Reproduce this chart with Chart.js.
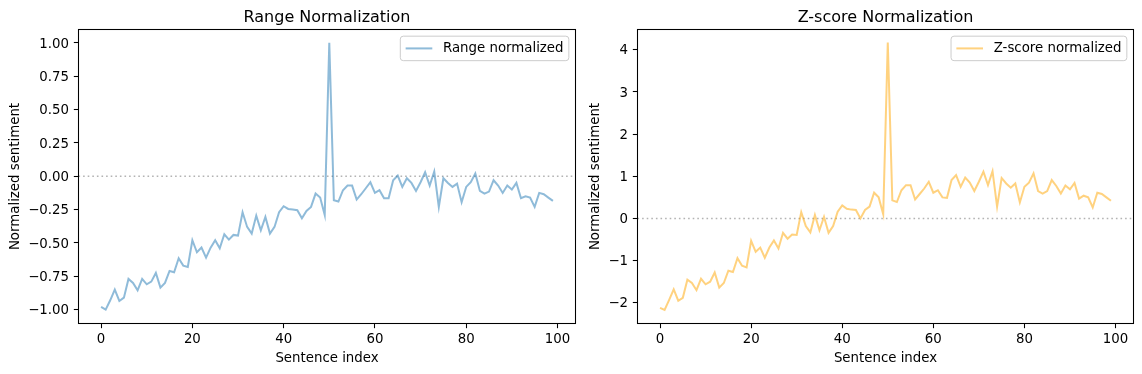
<!DOCTYPE html>
<html><head><meta charset="utf-8">
<script src="https://cdn.jsdelivr.net/npm/chart.js@4/dist/chart.umd.min.js"></script>
<style>
html,body{margin:0;padding:0;background:#fff;}
#wrap{position:relative;width:1142px;height:374px;background:#fff;}
canvas{position:absolute;left:0;top:0;}
</style></head><body>
<div id="wrap"><canvas id="c1" width="1142" height="374"></canvas><canvas id="c2" width="1142" height="374"></canvas></div>
<script>
// ---- data ----
const sentenceIndex = Array.from({length: 100}, (_, i) => i);
const rangeNormalized = [
 -0.98,-1.00,-0.93,-0.85,-0.935,-0.91,-0.77,-0.80,-0.855,-0.77,
 -0.81,-0.79,-0.725,-0.835,-0.80,-0.71,-0.72,-0.615,-0.67,-0.68,
 -0.48,-0.57,-0.535,-0.61,-0.535,-0.48,-0.54,-0.435,-0.475,-0.44,
 -0.445,-0.27,-0.38,-0.43,-0.295,-0.405,-0.305,-0.43,-0.38,-0.27,
 -0.225,-0.245,-0.25,-0.255,-0.315,-0.26,-0.23,-0.13,-0.16,-0.29,
 1.00,-0.18,-0.19,-0.105,-0.07,-0.07,-0.175,-0.135,-0.09,-0.045,
 -0.125,-0.105,-0.165,-0.165,-0.03,0.005,-0.08,-0.015,-0.05,-0.11,
 -0.045,0.03,-0.07,0.035,-0.23,-0.015,-0.05,-0.08,-0.055,-0.195,
 -0.08,-0.045,0.02,-0.11,-0.13,-0.115,-0.03,-0.07,-0.125,-0.07,
 -0.10,-0.05,-0.165,-0.15,-0.16,-0.23,-0.125,-0.135,-0.16,-0.185
];
const zscoreNormalized = [
 -2.12,-2.17,-1.93,-1.68,-1.95,-1.88,-1.45,-1.53,-1.70,-1.43,
 -1.56,-1.50,-1.28,-1.64,-1.53,-1.24,-1.27,-0.94,-1.12,-1.16,
 -0.53,-0.79,-0.69,-0.93,-0.69,-0.52,-0.71,-0.34,-0.48,-0.38,
 -0.39,0.15,-0.18,-0.33,0.085,-0.28,0.04,-0.34,-0.18,0.16,
 0.31,0.23,0.21,0.20,0.00,0.20,0.28,0.61,0.50,0.10,
 4.17,0.43,0.39,0.67,0.79,0.79,0.45,0.58,0.71,0.87,
 0.61,0.67,0.50,0.49,0.91,1.03,0.75,0.97,0.85,0.65,
 0.87,1.11,0.79,1.12,0.28,0.96,0.83,0.73,0.83,0.38,
 0.75,0.85,1.07,0.65,0.59,0.65,0.91,0.77,0.59,0.78,
 0.69,0.84,0.47,0.54,0.50,0.26,0.61,0.58,0.50,0.42
];
const xTicks = [0, 20, 40, 60, 80, 100];
const rangeTicks = [-1, -0.75, -0.5, -0.25, 0, 0.25, 0.5, 0.75, 1];
const zscoreTicks = [-2, -1, 0, 1, 2, 3, 4];

// ---- styling ----
const FAMILY = "'DejaVu Sans', sans-serif";
const FS = 13.33;
const BLUE = 'rgba(31,119,180,0.5)';
const ORANGE = 'rgba(255,165,0,0.5)';

const decorPlugin = {
  id: 'decor',
  beforeDatasetsDraw(chart) {
    const {ctx, chartArea: a, scales: {y}} = chart;
    const py = y.getPixelForValue(0);
    ctx.save();
    ctx.strokeStyle = 'rgba(128,128,128,0.6)';
    ctx.lineWidth = 1.6;
    ctx.setLineDash([1.6, 3.0]);
    ctx.beginPath(); ctx.moveTo(a.left, py); ctx.lineTo(a.right, py); ctx.stroke();
    ctx.restore();
  },
  afterDraw(chart) {
    const {ctx, chartArea: a} = chart;
    ctx.save();
    // spines
    ctx.strokeStyle = '#000'; ctx.lineWidth = 1.07;
    ctx.strokeRect(a.left, a.top, a.right - a.left, a.bottom - a.top);
    // legend
    const ds = chart.data.datasets[0];
    ctx.font = FS + 'px ' + FAMILY;
    const tw = ctx.measureText(ds.label).width;
    const pad = 0.4 * FS, hl = 2 * FS, htp = 0.8 * FS;
    const w = pad + hl + htp + tw + pad, h = 24.5;
    const x = a.right - 0.5 * FS - w, y = a.top + 0.5 * FS;
    const r = 3;
    ctx.beginPath();
    ctx.moveTo(x + r, y); ctx.lineTo(x + w - r, y); ctx.quadraticCurveTo(x + w, y, x + w, y + r);
    ctx.lineTo(x + w, y + h - r); ctx.quadraticCurveTo(x + w, y + h, x + w - r, y + h);
    ctx.lineTo(x + r, y + h); ctx.quadraticCurveTo(x, y + h, x, y + h - r);
    ctx.lineTo(x, y + r); ctx.quadraticCurveTo(x, y, x + r, y); ctx.closePath();
    ctx.fillStyle = 'rgba(255,255,255,0.8)'; ctx.fill();
    ctx.strokeStyle = '#cccccc'; ctx.lineWidth = 1; ctx.stroke();
    const cy = y + h / 2;
    ctx.strokeStyle = ds.borderColor; ctx.lineWidth = 2;
    ctx.beginPath(); ctx.moveTo(x + pad, cy); ctx.lineTo(x + pad + hl, cy); ctx.stroke();
    ctx.fillStyle = '#000'; ctx.textBaseline = 'middle'; ctx.textAlign = 'left';
    ctx.fillText(ds.label, x + pad + hl + htp, cy + 0.5);
    ctx.restore();
  }
};

function fmtMinus(s) { return s.replace('-', '\u2212'); }

function buildChart(id, p) {
  const font = {family: FAMILY, size: FS, weight: 'normal', lineHeight: 1.2};
  return new Chart(document.getElementById(id), {
    type: 'line',
    data: {
      datasets: [{
        label: p.label,
        data: sentenceIndex.map((x, i) => ({x: x, y: p.values[i]})),
        borderColor: p.color, borderWidth: 2, pointRadius: 0, tension: 0, fill: false
      }]
    },
    options: {
      responsive: false, animation: false, devicePixelRatio: 1,
      layout: {padding: {left: p.padLeft, right: p.padRight, top: 0, bottom: 0}},
      plugins: {
        legend: {display: false}, tooltip: {enabled: false},
        title: {display: true, text: p.title, fullSize: false, color: '#000',
          font: {family: FAMILY, size: 16, weight: 'normal', lineHeight: 1.2},
          padding: {top: 8.2, bottom: 2.1}}
      },
      scales: {
        x: {
          type: 'linear', min: -4.95, max: 103.95,
          afterBuildTicks: s => { s.ticks = xTicks.map(v => ({value: v})); },
          afterFit: s => { s.height = 50.5; },
          ticks: {color: '#000', font: font, padding: 3, maxRotation: 0, autoSkip: false,
            callback: v => String(v)},
          grid: {drawOnChartArea: false, drawTicks: true, tickLength: 4.67, tickColor: '#000', tickWidth: 1.07},
          border: {display: false},
          title: {display: true, text: 'Sentence index', color: '#000', font: font, padding: {top: 0, bottom: 7}}
        },
        y: {
          type: 'linear', min: p.yMin, max: p.yMax,
          afterBuildTicks: s => { s.ticks = p.ticks.map(v => ({value: v})); },
          afterFit: s => { s.width = p.yWidth; },
          ticks: {color: '#000', font: font, padding: 4.8, labelOffset: 1.2, autoSkip: false, callback: p.fmt},
          grid: {drawOnChartArea: false, drawTicks: true, tickLength: 4.67, tickColor: '#000', tickWidth: 1.07},
          border: {display: false},
          title: {display: true, text: 'Normalized sentiment', color: '#000', font: font, padding: {top: 7.8, bottom: 0}}
        }
      }
    },
    plugins: [decorPlugin]
  });
}

buildChart('c1', {
  label: 'Range normalized', title: 'Range Normalization', values: rangeNormalized, color: BLUE,
  padLeft: 0, padRight: 1142 - 575.5, yWidth: 78.5, yMin: -1.104, yMax: 1.10, ticks: rangeTicks,
  fmt: v => fmtMinus(Number(v).toFixed(2))
});
buildChart('c2', {
  label: 'Z-score normalized', title: 'Z-score Normalization', values: zscoreNormalized, color: ORANGE,
  padLeft: 579.5, padRight: 1142 - 1133.5, yWidth: 58, yMin: -2.49, yMax: 4.48, ticks: zscoreTicks,
  fmt: v => fmtMinus(String(v))
});
</script>
</body></html>
